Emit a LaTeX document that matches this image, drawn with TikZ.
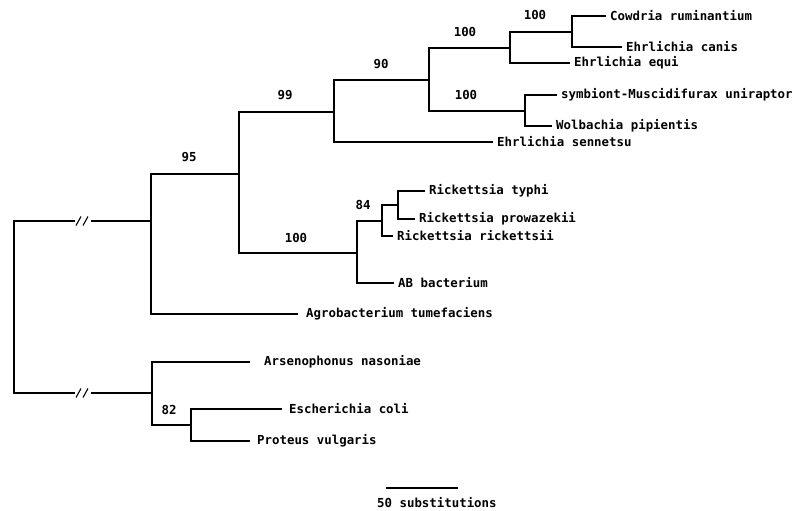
\documentclass[tikz,border=0pt]{standalone}
\usepackage{fontspec}
\setmonofont{DejaVu Sans Mono}
\usetikzlibrary{positioning}
\begin{document}
\begin{tikzpicture}[
    x=1pt, y=-1pt,
    branch/.style={draw=black, line width=1.3pt},
    taxon/.style={anchor=west, inner xsep=4pt, inner ysep=0pt,
        font=\ttfamily\bfseries\fontsize{12.4}{14}\selectfont},
    support/.style={inner sep=0pt, font=\ttfamily\bfseries\fontsize{12.4}{14}\selectfont}
]
\useasboundingbox (0,0) rectangle (807,511);

% split points: x of the vertical, y where the parent branch joins
\coordinate (root) at (14,307);
\coordinate (ntop) at (151,221);
\coordinate (nbot) at (152,393);
\coordinate (n95) at (239,174);
\coordinate (n99) at (334,112);
\coordinate (n90) at (429,80);
\coordinate (nequi) at (510,48);
\coordinate (ncow) at (572,32);
\coordinate (nwol) at (525,111);
\coordinate (nrick) at (357,253);
\coordinate (n84) at (382,221);
\coordinate (ntyp) at (398,205);
\coordinate (n82) at (191,425);
\coordinate (cutT) at (83,221);
\coordinate (cutB) at (83,393);

% taxa, west anchor = end of the terminal branch
\node[taxon] (cowdria) at (606,16) {Cowdria ruminantium};
\node[taxon] (canis) at (622,47) {Ehrlichia canis};
\node[taxon] (equi) at (570,63) {Ehrlichia equi};
\node[taxon] (symbiont) at (557,95) {symbiont-Muscidifurax uniraptor};
\node[taxon] (wolbachia) at (552,126) {Wolbachia pipientis};
\node[taxon] (sennetsu) at (493,142) {Ehrlichia sennetsu};
\node[taxon] (typhi) at (425,191) {Rickettsia typhi};
\node[taxon] (prowazekii) at (415,219) {Rickettsia prowazekii};
\node[taxon] (rickettsii) at (393,236) {Rickettsia rickettsii};
\node[taxon] (ab) at (394,283) {AB bacterium};
\node[taxon, inner xsep=8pt] (agro) at (298,314) {Agrobacterium tumefaciens};
\node[taxon, inner xsep=14pt] (arseno) at (250,362) {Arsenophonus nasoniae};
\node[taxon, inner xsep=7pt] (ecoli) at (282,409) {Escherichia coli};
\node[taxon, inner xsep=7pt] (proteus) at (250,441) {Proteus vulgaris};

% bootstrap values
\node[support] (bsCow) at (535,15) {100};
\node[support] (bsEqui) at (465,32) {100};
\node[support] (bs90) at (381,64) {90};
\node[support] (bs99) at (285,95) {99};
\node[support] (bsWol) at (466,95) {100};
\node[support] (bs95) at (189,157) {95};
\node[support] (bs84) at (363,205) {84};
\node[support] (bsRick) at (296,238) {100};
\node[support] (bs82) at (169,410) {82};

% broken root branches
\draw[branch] (root) |- ([xshift=-8pt]cutT);
\draw[branch] (root) |- ([xshift=-8pt]cutB);
\draw[branch] ([xshift=8pt]cutT) -- (ntop);
\draw[branch] ([xshift=8pt]cutB) -- (nbot);
\foreach \c in {cutT,cutB} {
  \draw[branch, line width=1.1pt] ([shift={(-7pt,-4.5pt)}]\c) -- ([shift={(-2pt,4.5pt)}]\c);
  \draw[branch, line width=1.1pt] ([shift={(0pt,-4.5pt)}]\c) -- ([shift={(5pt,4.5pt)}]\c);
}

\draw[branch] (ntop) |- (n95);
\draw[branch] (ntop) |- (agro.west);
\draw[branch] (n95) |- (n99);
\draw[branch] (n95) |- (nrick);
\draw[branch] (n99) |- (n90);
\draw[branch] (n99) |- (sennetsu.west);
\draw[branch] (n90) |- (nequi);
\draw[branch] (n90) |- (nwol);
\draw[branch] (nequi) |- (ncow);
\draw[branch] (nequi) |- (equi.west);
\draw[branch] (ncow) |- (cowdria.west);
\draw[branch] (ncow) |- (canis.west);
\draw[branch] (nwol) |- (symbiont.west);
\draw[branch] (nwol) |- (wolbachia.west);
\draw[branch] (nrick) |- (n84);
\draw[branch] (nrick) |- (ab.west);
\draw[branch] (n84) |- (ntyp);
\draw[branch] (n84) |- (rickettsii.west);
\draw[branch] (ntyp) |- (typhi.west);
\draw[branch] (ntyp) |- (prowazekii.west);
\draw[branch] (nbot) |- (arseno.west);
\draw[branch] (nbot) |- (n82);
\draw[branch] (n82) |- (ecoli.west);
\draw[branch] (n82) |- (proteus.west);

% scale bar
\coordinate (sbL) at (386,488);
\coordinate (sbR) at (458,488);
\draw[branch] (sbL) -- (sbR);
\node[support, anchor=west] (sblabel) at (377,503) {50 substitutions};
\end{tikzpicture}
\end{document}
